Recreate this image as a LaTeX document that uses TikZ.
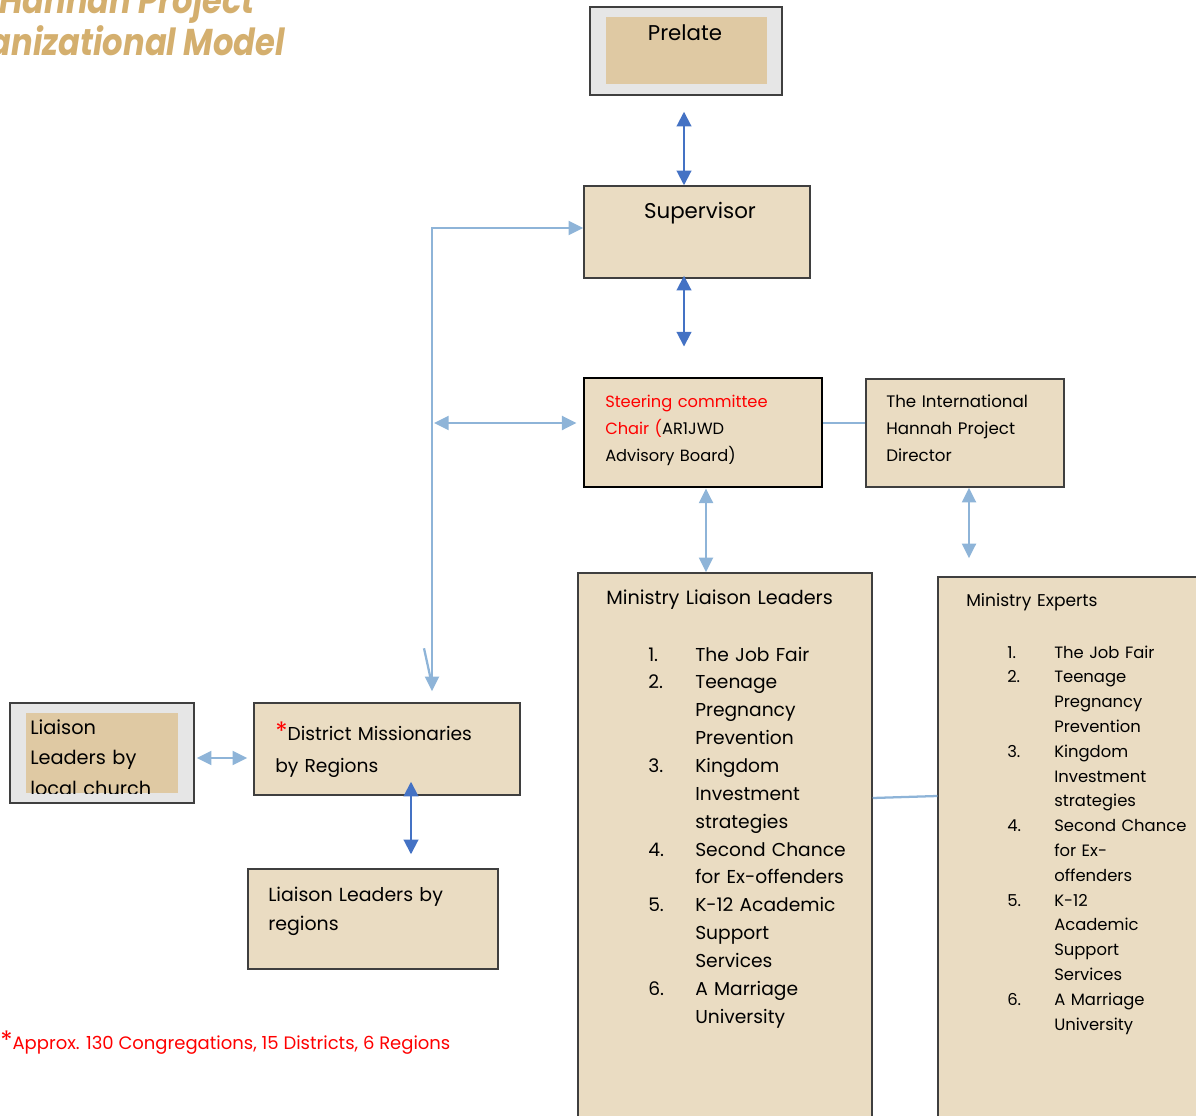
\documentclass[tikz,border=0pt]{standalone}
\usepackage{fontspec}
\setmainfont{Poppins}
\usetikzlibrary{arrows.meta}
\newdimen\pxu \pxu=0.75pt
\newdimen\numw \numw=35.25pt
\definecolor{boxfill}{HTML}{EADCC2}
\definecolor{innerfill}{HTML}{DFC9A3}
\definecolor{outerfill}{HTML}{E6E6E6}
\definecolor{lblue}{HTML}{8EB4D8}
\definecolor{dblue}{HTML}{4472C4}
\definecolor{titlegold}{HTML}{D4AF6E}
\definecolor{edgegray}{HTML}{3F3F3F}
\definecolor{fnred}{HTML}{FF0000}
\newcommand\itm[2]{\makebox[\numw][l]{#1}#2}
\newcommand\cnt[1]{\hspace*{\numw}#1}
\newcommand\redstar{\textcolor{fnred}{\fontsize{19}{19}\selectfont*}}
\begin{document}
\begin{tikzpicture}[x=0.75pt,y=-0.75pt,
  box/.style={draw=edgegray, line width=1.1pt, fill=boxfill, inner sep=0pt},
  outerbox/.style={draw=edgegray, line width=1.1pt, fill=outerfill, inner sep=0pt},
  innerbox/.style={fill=innerfill, inner sep=0pt},
  txt/.style={inner sep=0pt, anchor=base west, align=left, text width=#1},
  titletxt/.style={inner sep=0pt, anchor=base east, text=titlegold, font=\fontsize{28}{34}\selectfont\bfseries\itshape},
  lb/.style={draw=lblue, line width=1.7pt},
  db/.style={draw=dblue, line width=1.5pt},
  ltip/.style={{Triangle[length=11pt,width=10.5pt]}-{Triangle[length=11pt,width=10.5pt]}},
  dtip/.style={{Triangle[length=11pt,width=11pt]}-{Triangle[length=11pt,width=11pt]}},
]
\useasboundingbox (0,0) rectangle (1196,1116);
\begin{scope}
\clip (0,0) rectangle (1196,1116);
% title
\node[titletxt] (title1) at (255,14) {\scalebox{0.86}[1]{Hannah Project}};
\node[titletxt] (title2) at (285,56) {\scalebox{0.86}[1]{Organizational Model}};
% boxes
\node[outerbox, minimum width=192\pxu, minimum height=88\pxu] (prelate) at (686,51) {};
\node[innerbox, minimum width=161\pxu, minimum height=67\pxu] (prelatein) at (686.5,50.5) {};
\node[box, minimum width=226\pxu, minimum height=92\pxu] (supervisor) at (697,232) {};
\node[box, line width=2.2pt, draw=black, minimum width=238\pxu, minimum height=109\pxu] (steering) at (703,432.5) {};
\node[box, minimum width=198\pxu, minimum height=108\pxu] (director) at (965,433) {};
\node[box, minimum width=294\pxu, minimum height=557\pxu] (mll) at (725,851.5) {};
\node[box, minimum width=272\pxu, minimum height=553\pxu] (mexp) at (1074,853.5) {};
\node[box, minimum width=266\pxu, minimum height=92\pxu] (district) at (387,749) {};
\node[box, minimum width=250\pxu, minimum height=100\pxu] (llregions) at (373,919) {};
\node[outerbox, minimum width=184\pxu, minimum height=100\pxu] (llocal) at (102,753) {};
\node[innerbox, minimum width=152\pxu, minimum height=80\pxu] (llocalin) at (102,753) {};
% texts
\node[inner sep=0pt, anchor=base, font=\fontsize{16}{20}\selectfont] (prelatetxt) at (685,41) {Prelate};
\node[inner sep=0pt, anchor=base, font=\fontsize{16}{20}\selectfont] (supertxt) at (700,219) {Supervisor};
\node[txt=200pt, font=\fontsize{12.2}{20.25}\selectfont] (steertxt) at (605,407)
  {\textcolor{fnred}{Steering committee}\\\textcolor{fnred}{Chair (}AR1JWD\\Advisory Board)};
\node[txt=200pt, font=\fontsize{12.5}{20.25}\selectfont] (dirtxt) at (886,407)
  {The International\\Hannah Project\\Director};
\node[txt=250pt, font=\fontsize{14.4}{20.9}\selectfont] (mlltitle) at (606,604) {Ministry Liaison Leaders};
\node[txt=250pt, font=\fontsize{14}{20.9}\selectfont] (mlllist) at (648,661)
  {\itm{1.}{The Job Fair}\\\itm{2.}{Teenage}\\\cnt{Pregnancy}\\\cnt{Prevention}\\
   \itm{3.}{Kingdom}\\\cnt{Investment}\\\cnt{strategies}\\
   \itm{4.}{Second Chance}\\\cnt{for Ex-offenders}\\
   \itm{5.}{K-12 Academic}\\\cnt{Support}\\\cnt{Services}\\
   \itm{6.}{A Marriage}\\\cnt{University}};
\node[txt=200pt, font=\fontsize{12.8}{18.6}\selectfont] (mexptitle) at (966,606) {Ministry Experts};
\node[txt=200pt, font=\fontsize{12.3}{18.6}\selectfont] (mexplist) at (1007,658)
  {\itm{1.}{The Job Fair}\\\itm{2.}{Teenage}\\\cnt{Pregnancy}\\\cnt{Prevention}\\
   \itm{3.}{Kingdom}\\\cnt{Investment}\\\cnt{strategies}\\
   \itm{4.}{Second Chance}\\\cnt{for Ex-}\\\cnt{offenders}\\
   \itm{5.}{K-12}\\\cnt{Academic}\\\cnt{Support}\\\cnt{Services}\\
   \itm{6.}{A Marriage}\\\cnt{University}};
\node[txt=220pt, font=\fontsize{14}{24}\selectfont] (disttxt) at (275,740)
  {\redstar District Missionaries\\by Regions};
\node[txt=200pt, font=\fontsize{14.2}{21.75}\selectfont] (llregtxt) at (268,901)
  {Liaison Leaders by\\regions};
\begin{scope}
\clip (llocalin.south west) rectangle (llocalin.north east);
\node[txt=120pt, font=\fontsize{14.5}{23.1}\selectfont] (llocaltxt) at (30,734)
  {Liaison\\Leaders by\\local church};
\end{scope}
\node[inner sep=0pt, anchor=base west, text=fnred, font=\fontsize{13.5}{16}\selectfont] (footnote) at (0,1049)
  {{\fontsize{19}{19}\selectfont*}Approx. 130 Congregations, 15 Districts, 6 Regions};
% connectors
\draw[db, dtip, shorten <=16\pxu] ([xshift=-2\pxu]prelate.south) -- ([xshift=-13\pxu]supervisor.north);
\draw[db, dtip, shorten <=-3\pxu, shorten >=30\pxu] ([xshift=-13\pxu]supervisor.south) -- ([xshift=-19\pxu]steering.north);
\draw[lb, ltip, shorten >=11\pxu] ([yshift=4\pxu]supervisor.west) -| ([xshift=45\pxu]district.north);
\draw[lb] ([xshift=37\pxu,yshift=54\pxu]district.north) -- ([xshift=44\pxu,yshift=22\pxu]district.north);
\coordinate (leftjoin) at (434,423);
\draw[lb, ltip, shorten >=6\pxu] (leftjoin) -- ([yshift=9.5\pxu]steering.west);
\draw[lb] ([yshift=9.5\pxu]steering.east) -- ([yshift=10\pxu]director.west);
\draw[lb, ltip] ([xshift=3\pxu]steering.south) -- ([xshift=-19\pxu]mll.north);
\draw[lb, ltip, shorten >=18\pxu] ([xshift=4\pxu]director.south) -- ([xshift=-105\pxu]mexp.north);
\draw[lb] ([yshift=53.5\pxu]mll.east) -- ([yshift=57.5\pxu]mexp.west);
\draw[lb, ltip, shorten <=2\pxu, shorten >=6\pxu] ([yshift=-5\pxu]llocal.east) -- ([yshift=-9\pxu]district.west);
\draw[db, dtip, shorten <=-14\pxu, shorten >=14\pxu] ([xshift=24\pxu]district.south) -- ([xshift=38\pxu]llregions.north);
\end{scope}
\end{tikzpicture}
\end{document}
